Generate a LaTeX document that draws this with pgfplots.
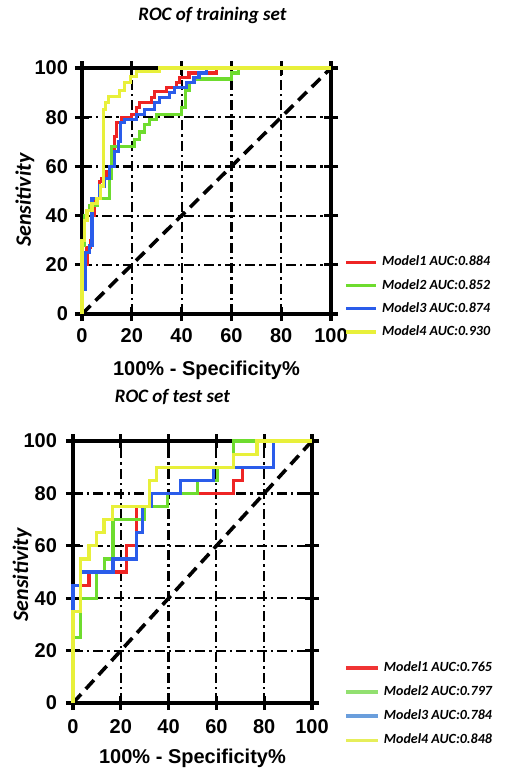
\documentclass[border=0pt]{standalone}
\usepackage{fontspec}
\setmainfont{Liberation Sans}
\newfontfamily\calib{Carlito}
\usepackage{pgfplots}
\pgfplotsset{compat=1.18}
\definecolor{mred}{HTML}{EE2424}
\definecolor{mgreen}{HTML}{6EDC2E}
\definecolor{mblue}{HTML}{2A5CEA}
\definecolor{myellow}{HTML}{E8F03A}
\definecolor{lred}{HTML}{F03434}
\definecolor{lgreen}{HTML}{92E070}
\definecolor{lblue}{HTML}{6A9EDC}
\definecolor{lyellow}{HTML}{E6EE5A}
\pgfplotsset{
  rocaxis/.style={
    scale only axis,
    xmin=0, xmax=100, ymin=0, ymax=100,
    xtick={0,20,40,60,80,100}, ytick={0,20,40,60,80,100},
    tick align=center, major tick length=7pt,
    axis line style={line width=1.6pt},
    major tick style={black, line width=1.6pt},
    grid=major,
    grid style={black, line width=1.1pt, dash pattern=on 5pt off 2pt on 1.2pt off 2pt},
    /pgf/number format/assume math mode=true,
    tick label style={font=\fontsize{10}{12}\selectfont\bfseries},
    xlabel style={font=\fontsize{10}{12}\selectfont\bfseries, anchor=center},
    ylabel style={font=\calib\bfseries\itshape\fontsize{11}{13}\selectfont, rotate=0, anchor=center},
    every axis title shift=0pt,
    title style={font=\calib\bfseries\itshape\fontsize{9.5}{11}\selectfont, anchor=center},
    clip=false,
    every axis plot/.append style={line width=1.6pt},
    legend cell align=left,
  },
  diag/.style={black, line width=1.8pt, dash pattern=on 6pt off 3.5pt, forget plot},
}
\begin{document}
\begin{tikzpicture}
\path[use as bounding box] (0,0) rectangle (252.5pt,-385.5pt);

% training set
\begin{axis}[rocaxis,
  at={(41pt,-157pt)}, anchor=south west, width=124.5pt, height=123pt,
  title={ROC of training set},
  title style={at={(axis description cs:0.524,1.215)}},
  xlabel={100\% - Specificity\%},
  xlabel style={at={(axis description cs:0.5,-0.228)}},
  ylabel={Sensitivity},
  ylabel style={at={(axis description cs:-0.229,0.463)}},
  xticklabel style={yshift=0pt},
  legend style={at={(axis description cs:1.03,0.27)}, anchor=north west,
    draw=none, fill=none, row sep=1.2pt,
    font=\calib\bfseries\itshape\fontsize{7}{8}\selectfont},
  legend image code/.code={\draw[#1, line width=1.6pt] (0pt,0pt) -- (15pt,0pt);},
]
\addplot[diag] coordinates {(0,0) (100,100)};
\addplot[mred] coordinates {(0,0) (0,10) (1.3,10) (1.3,20) (2,20) (2,27) (3.5,27) (3.5,30) (4,30) (4,40) (5,40) (5,47) (7,47) (7,54) (8,54) (8,55) (10,55) (10,58) (12,58) (12,62) (13,62) (13,72) (14,72) (14,78) (16,78) (16,80) (20,80) (20,81) (22,81) (22,84) (23,84) (23,86) (28,86) (28,88) (29,88) (29,90.5) (34,90.5) (34,92) (38,92) (38,94) (39,94) (39,96) (43,96) (43,98) (54,98) (54,100) (100,100)};
\addlegendentry{Model1 AUC:0.884}
\addplot[mgreen] coordinates {(0,0) (0,28) (1,28) (1,40) (2,40) (2,42) (3,42) (3,44) (6,44) (6,47) (11,47) (11,55) (12,55) (12,68) (21,68) (21,71) (23,71) (23,74) (25,74) (25,77) (27,77) (27,79) (30,79) (30,81) (40,81) (40,84) (41.5,84) (41.5,91) (43,91) (43,94) (45,94) (45,95.5) (60,95.5) (60,98) (63,98) (63,100) (100,100)};
\addlegendentry{Model2 AUC:0.852}
\addplot[mblue] coordinates {(0,0) (0,10) (1.3,10) (1.3,25) (3,25) (3,28) (4,28) (4,47) (7,47) (7,52) (9,52) (9,55) (11,55) (11,60) (13,60) (13,66) (14.5,66) (14.5,70) (15.5,70) (15.5,78) (17,78) (17,79) (22,79) (22,81) (25,81) (25,83) (29,83) (29,86) (31,86) (31,88) (35,88) (35,90) (37,90) (37,92) (42,92) (42,94) (45,94) (45,96) (47,96) (47,98) (50,98) (50,100) (100,100)};
\addlegendentry{Model3 AUC:0.874}
\addplot[myellow] coordinates {(0,0) (0,30) (1,30) (1,38) (2,38) (2,42) (4,42) (4,45) (6,45) (6,47) (7.5,47) (7.5,52) (8.5,52) (8.5,83) (9.5,83) (9.5,86) (10.5,86) (10.5,88.5) (15,88.5) (15,91) (17,91) (17,94) (19.5,94) (19.5,96.5) (22,96.5) (22,98.5) (31,98.5) (31,100) (100,100)};
\addlegendentry{Model4 AUC:0.930}
\end{axis}

% test set
\begin{axis}[rocaxis,
  at={(36.5pt,-351.5pt)}, anchor=south west, width=119.5pt, height=131pt,
  title={ROC of test set},
  title style={at={(axis description cs:0.416,1.168)}},
  xlabel={100\% - Specificity\%},
  xlabel style={at={(axis description cs:0.5,-0.21)}},
  ylabel={Sensitivity},
  ylabel style={at={(axis description cs:-0.213,0.489)}},
  xticklabel style={yshift=-1pt},
  yticklabel style={xshift=-1pt},
  legend style={at={(axis description cs:1.11,0.19)}, anchor=north west,
    draw=none, fill=none, row sep=1.6pt,
    font=\calib\bfseries\itshape\fontsize{7}{8}\selectfont},
  legend image code/.code={\draw[#1, line width=1.6pt] (0pt,0pt) -- (16pt,0pt);},
]
\addlegendimage{lred}
\addlegendentry{Model1 AUC:0.765}
\addlegendimage{lgreen}
\addlegendentry{Model2 AUC:0.797}
\addlegendimage{lblue}
\addlegendentry{Model3 AUC:0.784}
\addlegendimage{lyellow}
\addlegendentry{Model4 AUC:0.848}
\addplot[diag] coordinates {(0,0) (100,100)};
\addplot[mred, forget plot] coordinates {(0,0) (0,45) (6.7,45) (6.7,50) (22.5,50) (22.5,60) (26.5,60) (26.5,75) (33,75) (33,80) (67,80) (67,85) (71,85) (71,90) (84,90) (84,100) (100,100)};
\addplot[mgreen, forget plot] coordinates {(0,0) (0,25) (3.3,25) (3.3,40) (10,40) (10,50) (13.3,50) (13.3,55) (16.7,55) (16.7,70) (30,70) (30,75) (39.5,75) (39.5,80) (52,80) (52,85) (60.5,85) (60.5,90) (67,90) (67,100) (100,100)};
\addplot[mblue, forget plot] coordinates {(0,0) (0,45) (3.3,45) (3.3,50) (16.7,50) (16.7,55) (26.7,55) (26.7,65) (29,65) (29,75) (33,75) (33,80) (45,80) (45,85) (58.7,85) (58.7,90) (84,90) (84,100) (100,100)};
\addplot[myellow, forget plot] coordinates {(0,0) (0,35) (3.3,35) (3.3,55) (6.7,55) (6.7,60) (10,60) (10,65) (13,65) (13,70) (16.5,70) (16.5,75) (32,75) (32,85) (35,85) (35,90) (67,90) (67,95) (77,95) (77,100) (100,100)};
\end{axis}
\end{tikzpicture}
\end{document}
